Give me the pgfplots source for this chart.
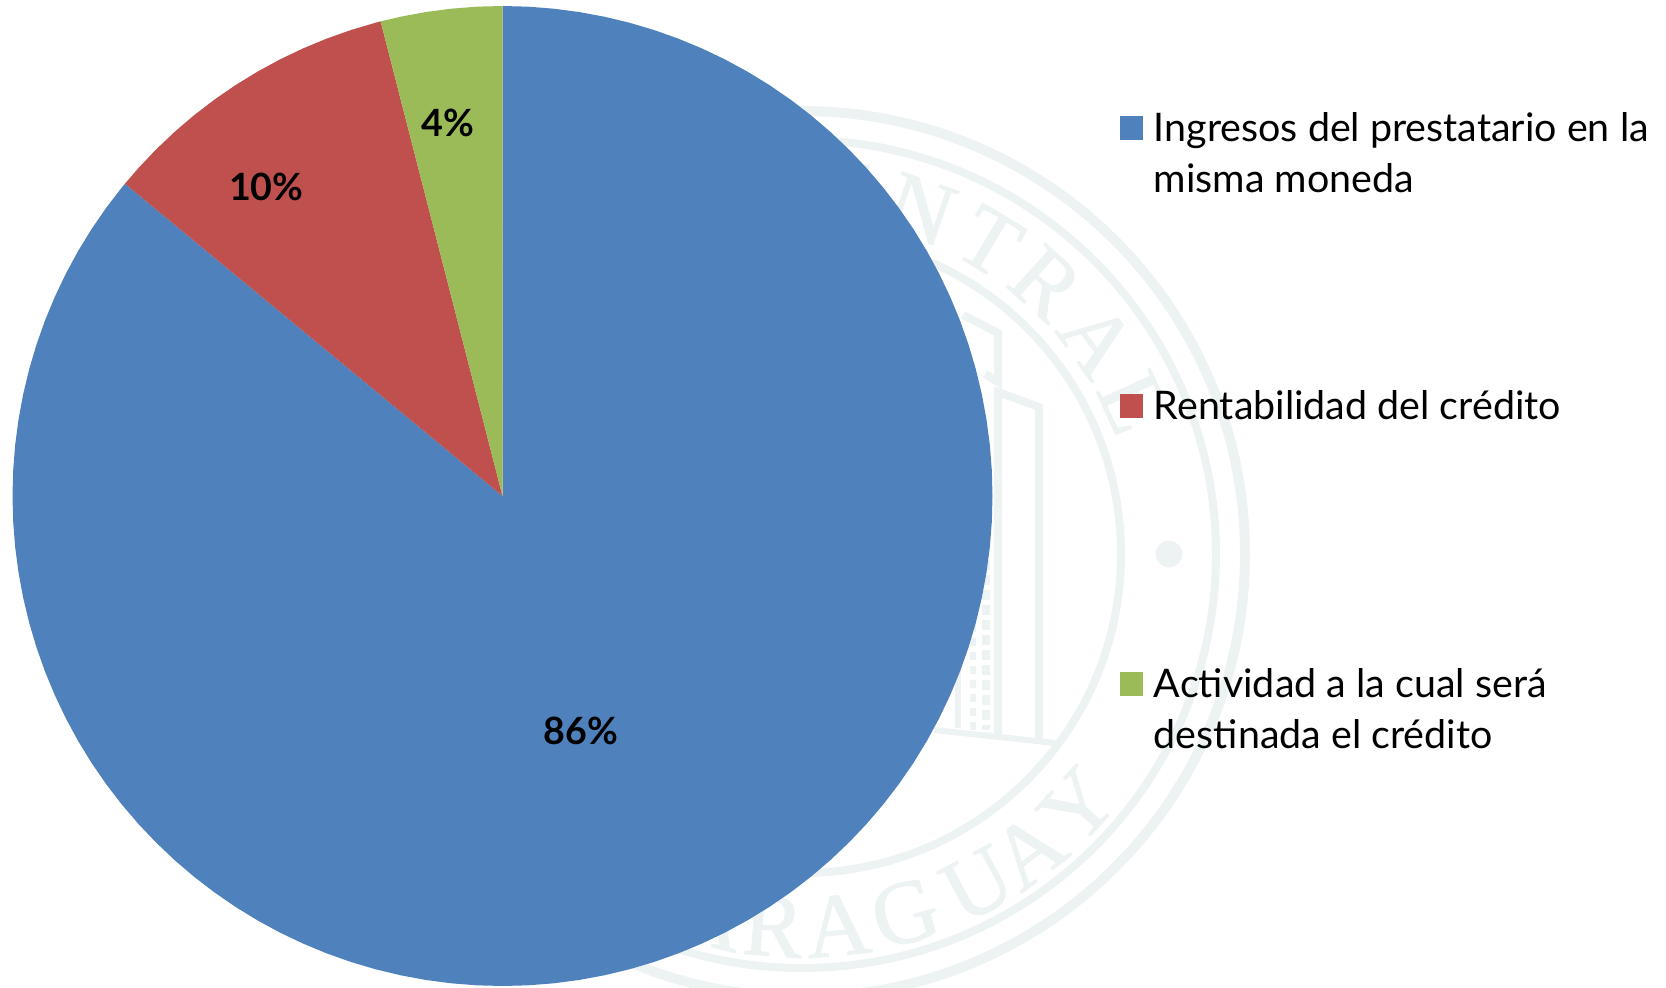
\documentclass[border=0pt]{standalone}
\usepackage{fontspec}
\usepackage{pgfplots}
\pgfplotsset{compat=1.18}
\setmainfont{Lato}
\newfontfamily\sealfont[FakeBold=1.2]{Liberation Serif}
\definecolor{pieblue}{HTML}{4F81BD}
\definecolor{piered}{HTML}{C0504D}
\definecolor{piegreen}{HTML}{9BBB59}
\definecolor{seal}{HTML}{EDF2F3}
\begin{document}
\begin{tikzpicture}
\path[use as bounding box] (0,0) rectangle (833pt,493.5pt);
% faint seal behind the chart
\begin{scope}
\clip (0,0) rectangle (833pt,493.5pt);
\begin{scope}[shift={(401pt,216.5pt)}]
\draw[seal,line width=5pt] (0,0) circle (221.5pt);
\draw[seal,line width=4pt] (0,0) circle (207pt);
\draw[seal,line width=4pt] (0,0) circle (159.5pt);
\fill[seal] (183.5pt,0) circle (6.7pt);
\foreach \a/\l in {166/B,154/A,142/N,130/C,118/O,95/C,83/E,71/N,59/T,48/R,36/A,24.5/L}{
  \pgfmathsetmacro{\r}{\a-90}
  \node[seal,rotate=\r,anchor=base,inner sep=0pt,font=\sealfont\fontsize{45}{45}\selectfont] at (\a:167.5pt) {\l};
}
\foreach \a/\l in {-114/P,-104/A,-94.4/R,-84.5/A,-74/G,-62/U,-52.6/A,-42.4/Y}{
  \pgfmathsetmacro{\r}{\a+90}
  \node[seal,rotate=\r,anchor=base,inner sep=0pt,font=\sealfont\fontsize{45}{45}\selectfont] at (\a:201.5pt) {\l};
}
\end{scope}
\begin{scope}[x=0.5pt,y=-0.5pt,shift={(0,-987)},seal,line join=miter]
\draw[line width=4pt] (963,315)--(998,333)--(998,382)--(985,374);
\draw[line width=4pt] (998,737)--(998,392)--(1039,407)--(1039,741);
\draw[line width=3pt] (934,730)--(1055,743);
\draw[line width=4pt,dash pattern=on 5pt off 2.5pt] (986,560)--(986,730);
\draw[line width=3pt,dash pattern=on 4pt off 3pt] (973,610)--(973,730);
\draw[line width=3pt] (958,660)--(958,728);
\end{scope}
\end{scope}
\begin{axis}[
  at={(6.25pt,0.5pt)}, anchor=south west,
  scale only axis, width=490pt, height=490pt,
  xmin=-1, xmax=1, ymin=-1, ymax=1,
  hide axis, clip=false,
  data cs=polar,
  no markers,
  legend image code/.code={\fill[#1] (0pt,51.4pt) rectangle (11.7pt,63.4pt);},
  legend cell align=left,
  legend style={
    at={(axis cs:1.260,0.801)}, anchor=north west,
    draw=none, fill=none, inner sep=0pt, outer sep=0pt,
    nodes={inner sep=0pt,text depth={}},
    font=\fontsize{19.7}{25.5}\selectfont,
    row sep=0pt,
    /tikz/every odd column/.append style={column sep=5.3pt},
  },
]
\addplot[draw=none,fill=pieblue] coordinates {
 (0,0) (90,1) (87,1) (84,1) (81,1) (78,1) (75,1) (72,1) (69,1) (66,1) (63,1) (60,1) (57,1) (54,1) (51,1) (48,1) (45,1) (42,1) (39,1) (36,1) (33,1) (30,1) (27,1) (24,1) (21,1) (18,1) (15,1) (12,1) (9,1) (6,1) (3,1) (0,1)
 (-3,1) (-6,1) (-9,1) (-12,1) (-15,1) (-18,1) (-21,1) (-24,1) (-27,1) (-30,1) (-33,1) (-36,1) (-39,1) (-42,1) (-45,1) (-48,1) (-51,1) (-54,1) (-57,1) (-60,1) (-63,1) (-66,1) (-69,1) (-72,1) (-75,1) (-78,1) (-81,1) (-84,1) (-87,1) (-90,1)
 (-93,1) (-96,1) (-99,1) (-102,1) (-105,1) (-108,1) (-111,1) (-114,1) (-117,1) (-120,1) (-123,1) (-126,1) (-129,1) (-132,1) (-135,1) (-138,1) (-141,1) (-144,1) (-147,1) (-150,1) (-153,1) (-156,1) (-159,1) (-162,1) (-165,1) (-168,1) (-171,1) (-174,1) (-177,1) (-180,1)
 (-183,1) (-186,1) (-189,1) (-192,1) (-195,1) (-198,1) (-201,1) (-204,1) (-207,1) (-210,1) (-213,1) (-216,1) (-219,1) (-219.6,1)
};
\addlegendentry{\rule[-120pt]{0pt}{139pt}\parbox[t]{250pt}{Ingresos del prestatario en la\\misma moneda}}
\addplot[draw=none,fill=piered] coordinates {
 (0,0) (140.4,1) (138,1) (135,1) (132,1) (129,1) (126,1) (123,1) (120,1) (117,1) (114,1) (111,1) (108,1) (105,1) (104.4,1)
};
\addlegendentry{\rule[-120pt]{0pt}{139pt}\parbox[t]{250pt}{Rentabilidad del crédito}}
\addplot[draw=none,fill=piegreen] coordinates {
 (0,0) (104.4,1) (102,1) (99,1) (96,1) (93,1) (90,1)
};
\addlegendentry{\rule[-120pt]{0pt}{139pt}\parbox[t]{250pt}{Actividad a la cual será\\destinada el crédito}}
\node[font=\fontsize{18.8}{20}\bfseries] at (axis cs:0.160,-0.480) {86\%};
\node[font=\fontsize{18.8}{20}\bfseries] at (axis cs:-0.482,0.631) {10\%};
\node[font=\fontsize{18.8}{20}\bfseries] at (axis cs:-0.111,0.761) {4\%};
\end{axis}
\end{tikzpicture}
\end{document}
